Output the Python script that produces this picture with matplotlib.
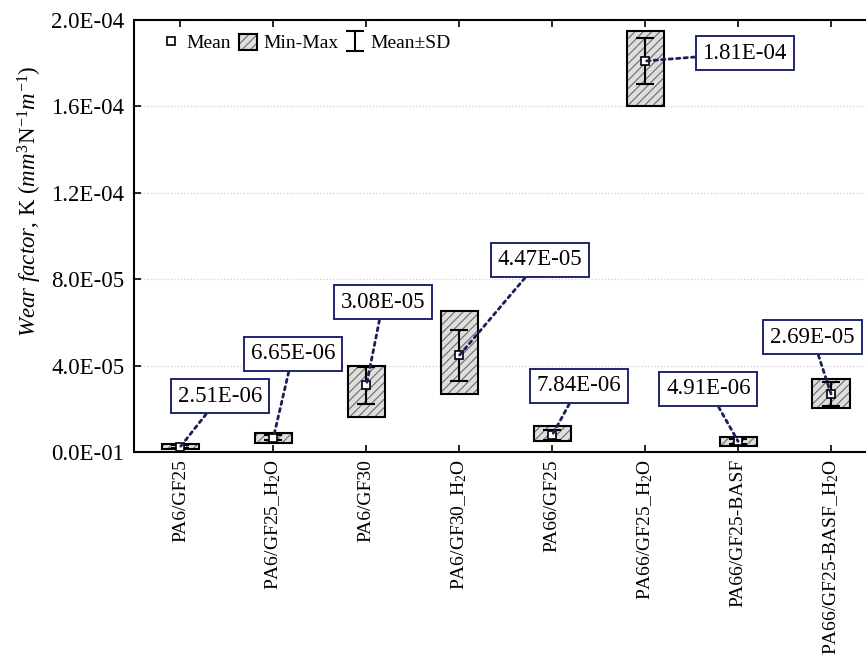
import matplotlib
matplotlib.use("Agg")
import matplotlib.pyplot as plt
from matplotlib.legend_handler import HandlerTuple

plt.rcParams['font.family'] = ['Liberation Serif', 'DejaVu Serif']
plt.rcParams['mathtext.fontset'] = 'custom'
plt.rcParams['mathtext.rm'] = 'Liberation Serif'
plt.rcParams['mathtext.it'] = 'Liberation Serif:italic'
plt.rcParams['hatch.linewidth'] = 0.8

# wear factor per material: mean, standard deviation, min and max
materials = ['PA6/GF25', 'PA6/GF25_H$_2$O', 'PA6/GF30', 'PA6/GF30_H$_2$O',
             'PA66/GF25', 'PA66/GF25_H$_2$O', 'PA66/GF25-BASF', 'PA66/GF25-BASF_H$_2$O']
mean_k = [2.51e-6, 6.65e-6, 3.08e-5, 4.47e-5, 7.84e-6, 1.81e-4, 4.91e-6, 2.69e-5]
sd_k = [0.8e-6, 1.3e-6, 0.86e-5, 1.18e-5, 2.2e-6, 1.08e-5, 1.0e-6, 0.54e-5]
min_k = [1.2e-6, 4.2e-6, 1.62e-5, 2.68e-5, 5.1e-6, 1.603e-4, 2.6e-6, 2.04e-5]
max_k = [3.9e-6, 8.8e-6, 4.0e-5, 6.53e-5, 1.22e-5, 1.949e-4, 6.8e-6, 3.38e-5]
label_text = ['2.51E-06', '6.65E-06', '3.08E-05', '4.47E-05',
              '7.84E-06', '1.81E-04', '4.91E-06', '2.69E-05']

y_ticks = [0, 4e-5, 8e-5, 1.2e-4, 1.6e-4, 2e-4]
y_tick_labels = ['0.0E-01', '4.0E-05', '8.0E-05', '1.2E-04', '1.6E-04', '2.0E-04']

# where each value label sits (data coords)
label_pos = [(0.43, 2.59e-5), (1.21, 4.54e-5), (2.18, 6.94e-5), (3.87, 8.89e-5),
             (4.29, 3.06e-5), (6.07, 1.847e-4), (5.68, 2.92e-5), (6.80, 5.32e-5)]

navy = '#1f2670'
x = list(range(len(materials)))
heights = [hi - lo for lo, hi in zip(min_k, max_k)]

fig = plt.figure(figsize=(8.66, 6.55), dpi=100)
ax = fig.add_axes([0.1547, 0.3099, 0.8586, 0.6596])

ax.yaxis.grid(True, color='#cfcfcf', linestyle=':', linewidth=0.9)
ax.set_axisbelow(True)

hatched = ax.bar(x, heights, bottom=min_k, width=0.4, color='#dedede',
                 edgecolor='#6a6a6a', hatch='////', linewidth=0, zorder=2)
outline = ax.bar(x, heights, bottom=min_k, width=0.4, fill=False,
                 edgecolor='black', linewidth=1.5, zorder=3)
eb = ax.errorbar(x, mean_k, yerr=sd_k, fmt='none', ecolor='black',
                 elinewidth=1.5, capsize=6.5, capthick=1.5, zorder=4)
mk, = ax.plot(x, mean_k, linestyle='none', marker='s', markersize=6,
              markerfacecolor='white', markeredgecolor='black',
              markeredgewidth=1.2, zorder=6)

for i, (txt, pos) in enumerate(zip(label_text, label_pos)):
    ax.annotate(txt, xy=(x[i], mean_k[i]), xytext=pos, fontsize=16.5,
                ha='center', va='center', zorder=7,
                bbox=dict(boxstyle='square,pad=0.3', facecolor='white',
                          edgecolor=navy, linewidth=1.4),
                arrowprops=dict(arrowstyle='-', linestyle=(0, (1.2, 1.5)),
                                color='#1a1f55', lw=2.0, shrinkA=0, shrinkB=0),
                annotation_clip=False)

ax.set_xlim(-0.5, 7.5)
ax.set_ylim(0, 2e-4)
ax.set_yticks(y_ticks)
ax.set_yticklabels(y_tick_labels, fontsize=16.5)
ax.set_xticks(x)
ax.set_xticklabels(materials, rotation=90, fontsize=14, va='top')
ax.tick_params(axis='both', direction='in', length=5, width=1.2, top=True)
ax.tick_params(axis='y', pad=7)
ax.tick_params(axis='x', pad=5)
for s in ax.spines.values():
    s.set_linewidth(1.5)

ax.set_ylabel(r'$Wear\ factor$, K ($mm^{3}\mathrm{N}^{-1}m^{-1}$)', fontsize=16.5)
ax.yaxis.set_label_coords(-0.121, 0.58)

leg = ax.legend([mk, (hatched[0], outline[0]), eb], ['Mean', 'Min-Max', 'Mean±SD'],
                handler_map={tuple: HandlerTuple(ndivide=1, pad=0)},
                loc='upper left', bbox_to_anchor=(0.02, 1.0), ncol=3,
                frameon=False, fontsize=14, handlelength=0.9, handleheight=0.9,
                handletextpad=0.35, columnspacing=0.4, borderaxespad=0.3)

fig.savefig('out.png', dpi=100)
